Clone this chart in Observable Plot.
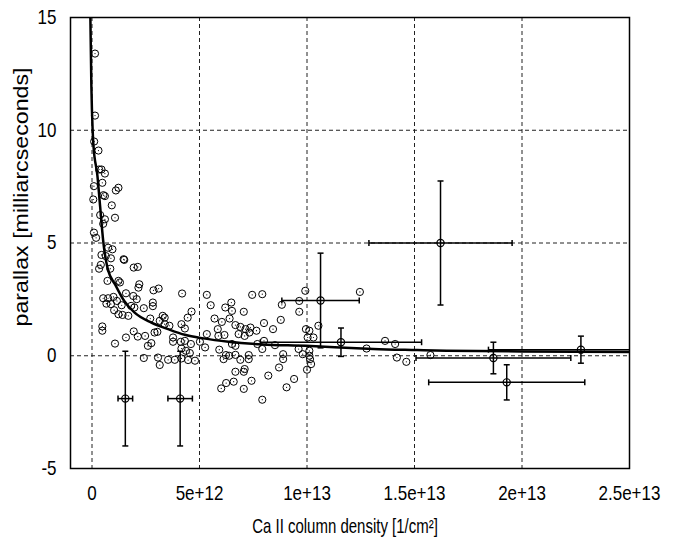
<!DOCTYPE html>
<html><head><meta charset="utf-8">
<script src="https://cdn.jsdelivr.net/npm/d3@7"></script>
<script src="https://cdn.jsdelivr.net/npm/@observablehq/plot@0.6"></script>
<style>
body{margin:0;background:#fff;}
#chart{width:691px;height:548px;}
svg text{font-family:'Liberation Sans',Arial,sans-serif;}
</style></head><body><div id="chart"></div>
<script>
// x values are in units of 1e12 / cm^2
const xTicks = [0, 5, 10, 15, 20, 25];
const xTickLabels = ["0", "5e+12", "1e+13", "1.5e+13", "2e+13", "2.5e+13"];
const yTicks = [-5, 0, 5, 10, 15];
const yTickLabels = ["-5", "0", "5", "10", "15"];
const xTitle = "Ca II column density [1/cm²]";
const yTitle = "parallax [milliarcseconds]";

// scatter stars (column density, parallax)
const starX = [0.14,0.14,0.1,0.3,0.33,0.44,0.6,0.48,1.11,1.23,0.09,0.53,0.6,0.06,0.92,0.38,0.6,0.52,1.07,0.09,0.19,0.75,0.95,0.44,0.88,0.64,1.47,1.5,0.41,0.33,0.85,1.94,2.13,
0.72,1.23,1.3,2.2,2.16,2.86,3.1,4.19,0.52,0.75,1.0,1.16,1.58,1.92,2.08,0.67,0.88,1.38,1.82,1.97,2.41,2.83,2.83,1.03,1.23,1.42,1.69,2.71,3.15,3.38,3.38,4.63,4.45,4.16,4.32,0.48,0.48,1.94,2.13,2.47,2.91,3.04,1.58,1.07,2.6,2.76,3.77,4.13,4.32,4.6,4.16,4.37,4.55,2.41,3.07,3.54,3.85,4.16,4.47,4.79,3.15,3.29,3.6,3.77,
5.34,5.52,7.45,7.92,9.92,9.64,8.83,9.64,6.2,6.48,6.51,7.06,5.7,6.04,6.4,6.67,6.9,7.14,7.37,7.65,8.0,8.42,8.78,5.85,5.88,6.16,6.82,7.1,7.32,5.34,5.02,5.26,6.51,6.67,7.69,7.92,8.0,8.51,5.92,6.23,6.38,6.67,6.12,6.9,7.29,7.29,8.89,8.89,9.61,9.8,10.11,9.95,10.11,10.03,10.19,10.0,8.7,8.2,6.67,7.06,7.1,6.59,7.42,6.24,6.01,7.06,9.4,9.05,7.92,
12.46,10.53,10.3,13.63,14.1,12.77,10.11,10.14,14.18,14.62,15.74];
const starY = [13.4,10.65,9.5,9.1,8.26,8.26,8.08,7.67,7.33,7.45,7.52,7.12,7.08,6.93,6.67,6.24,6.05,5.85,6.12,5.46,5.23,4.79,4.72,4.47,4.32,4.42,4.28,4.25,4.03,3.86,3.86,3.91,3.94,
3.32,3.32,3.25,3.17,3.02,2.9,2.98,2.76,2.55,2.55,2.61,2.43,2.77,2.65,2.51,2.31,2.29,2.24,2.21,2.14,2.11,2.36,2.2,2.02,1.84,1.81,1.77,1.65,1.55,1.69,1.4,1.96,1.69,1.4,1.21,1.3,1.11,1.08,0.85,0.88,1.03,1.06,0.81,0.54,0.44,0.56,0.62,0.62,0.66,0.52,0.32,0.22,0.12,-0.1,-0.08,-0.18,-0.18,-0.12,-0.19,-0.22,-0.41,1.77,1.33,0.81,
2.7,2.24,2.7,2.73,2.88,2.43,2.26,1.95,2.14,2.36,1.99,1.95,1.65,1.5,1.65,1.36,1.28,1.18,1.25,1.11,1.45,1.18,1.59,1.18,0.88,0.92,0.96,0.88,1.03,0.96,0.62,0.37,0.52,0.44,0.52,0.3,0.66,0.47,0.27,0.03,0.0,0.04,-0.15,-0.18,0.03,-0.15,0.07,-0.15,0.3,0.07,0.0,1.18,1.11,0.81,-0.37,-0.62,-0.52,-0.88,-0.71,-0.71,-0.59,-1.15,-1.11,-1.21,-1.45,-1.47,-1.03,-1.4,-1.95,
2.83,1.33,0.81,0.66,0.52,0.32,0.22,-0.15,-0.08,-0.27,0.03];

// stars with error bars
const errX  = [1.55, 4.1, 10.63, 11.58, 16.21, 18.67, 19.29, 22.74];
const errXe = [0.34, 0.57, 1.8, 3.75, 3.33, 3.6, 3.63, 4.3];
const errY  = [-1.9, -1.9, 2.45, 0.6, 5.0, -0.1, -1.18, 0.27];
const errYe = [2.1, 2.1, 2.1, 0.63, 2.75, 0.7, 0.78, 0.6];

// fitted relation
const fitX = [-0.08,-0.03,0.03,0.07,0.25,0.38,0.52,0.72,1.11,1.5,1.97,2.76,3.54,4.32,5.18,6.35,7.92,9.95,11.52,13.08,15.12,16.5,20,25];
const fitY = [15.3,12,10,9.3,8.0,6.6,5.1,3.9,3.1,2.43,1.92,1.47,1.18,0.93,0.77,0.62,0.5,0.44,0.37,0.3,0.25,0.22,0.19,0.17];

const stars = starX.map((x, i) => ({x, y: starY[i]}));
const errs = errX.map((x, i) => ({x, xe: errXe[i], y: errY[i], ye: errYe[i]}));
const fit = fitX.map((x, i) => ({x, y: fitY[i]}));

const capV = {draw(ctx, size){ const r = Math.sqrt(size/Math.PI); ctx.moveTo(0,-r); ctx.lineTo(0,r); }};
const capH = {draw(ctx, size){ const r = Math.sqrt(size/Math.PI); ctx.moveTo(-r,0); ctx.lineTo(r,0); }};

const gridStyle = {stroke: "#222", strokeOpacity: 1, strokeWidth: 1, strokeDasharray: "4,3"};
const barStyle = {stroke: "#000", strokeWidth: 1.5, clip: true};

const plot = Plot.plot({
  width: 691, height: 548,
  marginLeft: 70, marginRight: 62, marginTop: 17, marginBottom: 80,
  style: {fontFamily: "'Liberation Sans', Arial, sans-serif", fontSize: "17px", color: "#000", background: "#fff"},
  x: {domain: [-1, 25], label: null},
  y: {domain: [-5, 15], label: null},
  marks: [
    Plot.gridX([0, 5, 10, 15, 20], gridStyle),
    Plot.gridY([0, 5, 10], gridStyle),
    Plot.axisX({ticks: xTicks, tickFormat: d => xTickLabels[xTicks.indexOf(d)], tickSize: 0, tickPadding: 17, fontSize: 20}),
    Plot.axisY({ticks: yTicks, tickFormat: d => yTickLabels[yTicks.indexOf(d)], tickSize: 0, tickPadding: 14, fontSize: 20}),
    Plot.line(fit, {x: "x", y: "y", stroke: "#000", strokeWidth: 2.5, curve: "monotone-x", clip: true}),
    Plot.dot(stars, {x: "x", y: "y", r: 3.6, stroke: "#000", strokeWidth: 1, fill: "none", clip: true}),
    Plot.dot(stars, {x: "x", y: "y", r: 0.6, fill: "#000", stroke: null, clip: true}),
    Plot.link(errs, {x1: d => d.x - d.xe, x2: d => d.x + d.xe, y1: "y", y2: "y", ...barStyle}),
    Plot.link(errs, {x1: "x", x2: "x", y1: d => d.y - d.ye, y2: d => d.y + d.ye, ...barStyle}),
    Plot.dot(errs, {x: d => d.x - d.xe, y: "y", symbol: capV, r: 3, ...barStyle}),
    Plot.dot(errs, {x: d => d.x + d.xe, y: "y", symbol: capV, r: 3, ...barStyle}),
    Plot.dot(errs, {x: "x", y: d => d.y - d.ye, symbol: capH, r: 3, ...barStyle}),
    Plot.dot(errs, {x: "x", y: d => d.y + d.ye, symbol: capH, r: 3, ...barStyle}),
    Plot.dot(errs, {x: "x", y: "y", r: 3.6, stroke: "#000", strokeWidth: 1.2, fill: "none"}),
    Plot.frame({stroke: "#000", strokeWidth: 1.5})
  ]
});

const svg = d3.select(plot);
// narrow the tick labels horizontally, as in the reference
svg.selectAll('g[aria-label="x-axis tick label"] text, g[aria-label="y-axis tick label"] text').each(function() {
  const t = this.getAttribute("transform") || "";
  this.setAttribute("transform", t + " scale(0.85,1)");
});
svg.append("text").attr("transform", "translate(345,533) scale(0.75,1)").attr("text-anchor", "middle")
  .attr("font-size", 20).attr("fill", "#000").text(xTitle);
svg.append("text").attr("transform", "translate(28,197) rotate(-90) scale(1.16,1)").attr("text-anchor", "middle")
  .attr("font-size", 20).attr("fill", "#000").text(yTitle);

document.getElementById("chart").appendChild(plot);
</script></body></html>
